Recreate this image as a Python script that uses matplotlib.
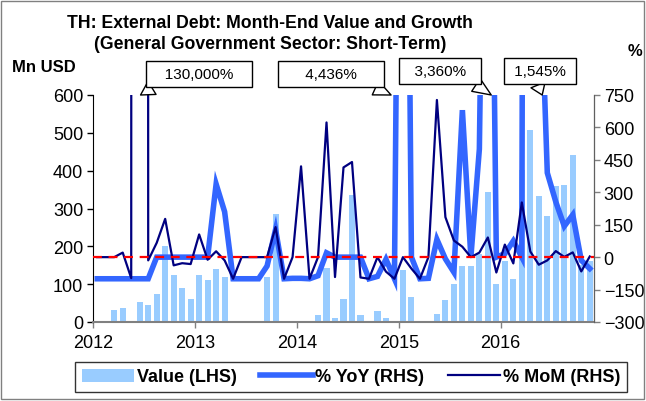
import numpy as np
import matplotlib
matplotlib.use("Agg")
from matplotlib import pyplot as plt
from matplotlib.patches import Rectangle

plt.rcParams['font.family'] = ['Liberation Sans', 'DejaVu Sans']

# monthly data, Jan 2012 .. Nov 2016
value = [0, 0, 32, 38, 1, 52, 44, 73, 202, 125, 90, 61,
         125, 110, 140, 119, 0, 0, 0, 0, 119, 285, 0, 1,
         3, 0, 19, 143, 11, 62, 335, 19, 0, 30, 10, 0,
         138, 65, 0, 3, 20, 57, 101, 149, 149, 180, 343, 101,
         160, 114, 402, 507, 332, 281, 360, 362, 441, 150, 160]
yoy = [-100, -100, -100, -100, -100, -100, -100, 0, 0, 0, 0, 0,
       0, 0, 338, 210, -100, -100, -100, -100, -41, 128, -100, -98,
       -98, -100, -86, 20, 0, 0, 0, 0, -100, -89, -10, -100,
       4436, 0, -100, -98, 82, -8, -70, 680, 0, 500, 3360, 0,
       16, 75, 0, 16000, 1545, 390, 256, 143, 196, -15, -53]
mom = [0, 0, 0, 21, -97, 130000, -15, 66, 177, -38, -28, -32,
       105, -12, 27, -15, -100, 0, 0, 0, 0, 139, -100, 0,
       420, -100, 0, 623, -92, 415, 440, -94, -100, 0, -67, -100,
       0, -53, -100, 0, 727, 185, 77, 48, 0, 21, 91, -71,
       58, -29, 253, 26, -35, -15, 28, 1, 22, -66, 3]
years = ['2012', '2013', '2014', '2015', '2016']

# callouts: label, month position the pointer hits, box centre (px), pointer start on box
callouts = [('   130,000%   ', 5.6, (199, 75), (0.12, 0.0)),
            ('     4,436%     ', 35.1, (331, 75), (0.81, 0.0)),
            ('  3,360%  ', 46.9, (440, 72), (0.87, 0.0)),
            (' 1,545% ', 52.9, (540, 72), (0.42, 0.0))]

W, H = 646, 402
x = np.arange(len(value)) + 0.5

fig = plt.figure(figsize=(W / 100, H / 100), dpi=100)
fig.patches.append(Rectangle((0.002, 0.004), 0.995, 0.992, transform=fig.transFigure,
                             fill=False, ec='#808080', lw=1))
ax = fig.add_axes([93 / W, 1 - 323 / H, (594 - 93) / W, (323 - 96) / H])
ax2 = ax.twinx()

ax.bar(x, value, width=0.72, color='#99CCFF', label='Value (LHS)')
ax2.plot(x, yoy, color='#3366FF', lw=4, solid_joinstyle='miter', label='% YoY (RHS)')
ax2.plot(x, mom, color='#000080', lw=1.6, label='% MoM (RHS)')
ax2.axhline(0, color='red', lw=1.6, ls=(0, (4, 3)))

ax.set_xlim(0, len(value))
ax.set_ylim(0, 600)
ax2.set_ylim(-300, 750)
ax.set_yticks(np.arange(0, 601, 100))
ax2.set_yticks(np.arange(-300, 751, 150))
ax.set_xticks(np.arange(0, len(value), 12))
ax.set_xticklabels(years)

for a in (ax, ax2):
    a.spines['top'].set_visible(False)
    a.tick_params(labelsize=13, length=4, width=1, color='#808080', pad=3)
ax.spines['left'].set_color('black')
ax.spines['bottom'].set_color('#808080')
ax.spines['bottom'].set_linewidth(1.5)
ax2.spines['right'].set_color('#606060')
ax2.spines['left'].set_visible(False)
ax2.spines['bottom'].set_visible(False)
ax.tick_params(axis='y', color='black')
ax.tick_params(axis='x', pad=5)
ax.set_facecolor('none')

fig.text(270 / W, 1 - 34 / H,
         'TH: External Debt: Month-End Value and Growth\n(General Government Sector: Short-Term)',
         ha='center', va='center', fontsize=12.7, fontweight='bold', linespacing=1.25)
fig.text(12 / W, 1 - 68 / H, 'Mn USD', ha='left', va='center', fontsize=12, fontweight='bold')
fig.text(628 / W, 1 - 52 / H, '%', ha='left', va='center', fontsize=12, fontweight='bold')

for label, xm, (bx, by), rel in callouts:
    ax2.annotate(label, xy=(xm, 750), xycoords='data',
                 xytext=(bx / W, 1 - by / H), textcoords='figure fraction',
                 ha='center', va='center', fontsize=11, annotation_clip=False,
                 bbox=dict(boxstyle='square,pad=0.42', fc='white', ec='black', lw=1),
                 arrowprops=dict(arrowstyle='wedge,tail_width=1.0,shrink_factor=0.5',
                                 fc='white', ec='black', lw=1, relpos=rel,
                                 shrinkA=0, shrinkB=0))

h1, l1 = ax.get_legend_handles_labels()
h2, l2 = ax2.get_legend_handles_labels()
leg = fig.legend(h1 + h2, l1 + l2, loc='center', bbox_to_anchor=(351 / W, 1 - 378 / H),
                 ncol=3, frameon=True, fancybox=False, edgecolor='black',
                 prop={'weight': 'bold', 'size': 13}, handlelength=2.9,
                 handletextpad=0.15, columnspacing=1.3, borderpad=0.35)
leg.get_frame().set_linewidth(1)

fig.savefig('out.png', dpi=100)
